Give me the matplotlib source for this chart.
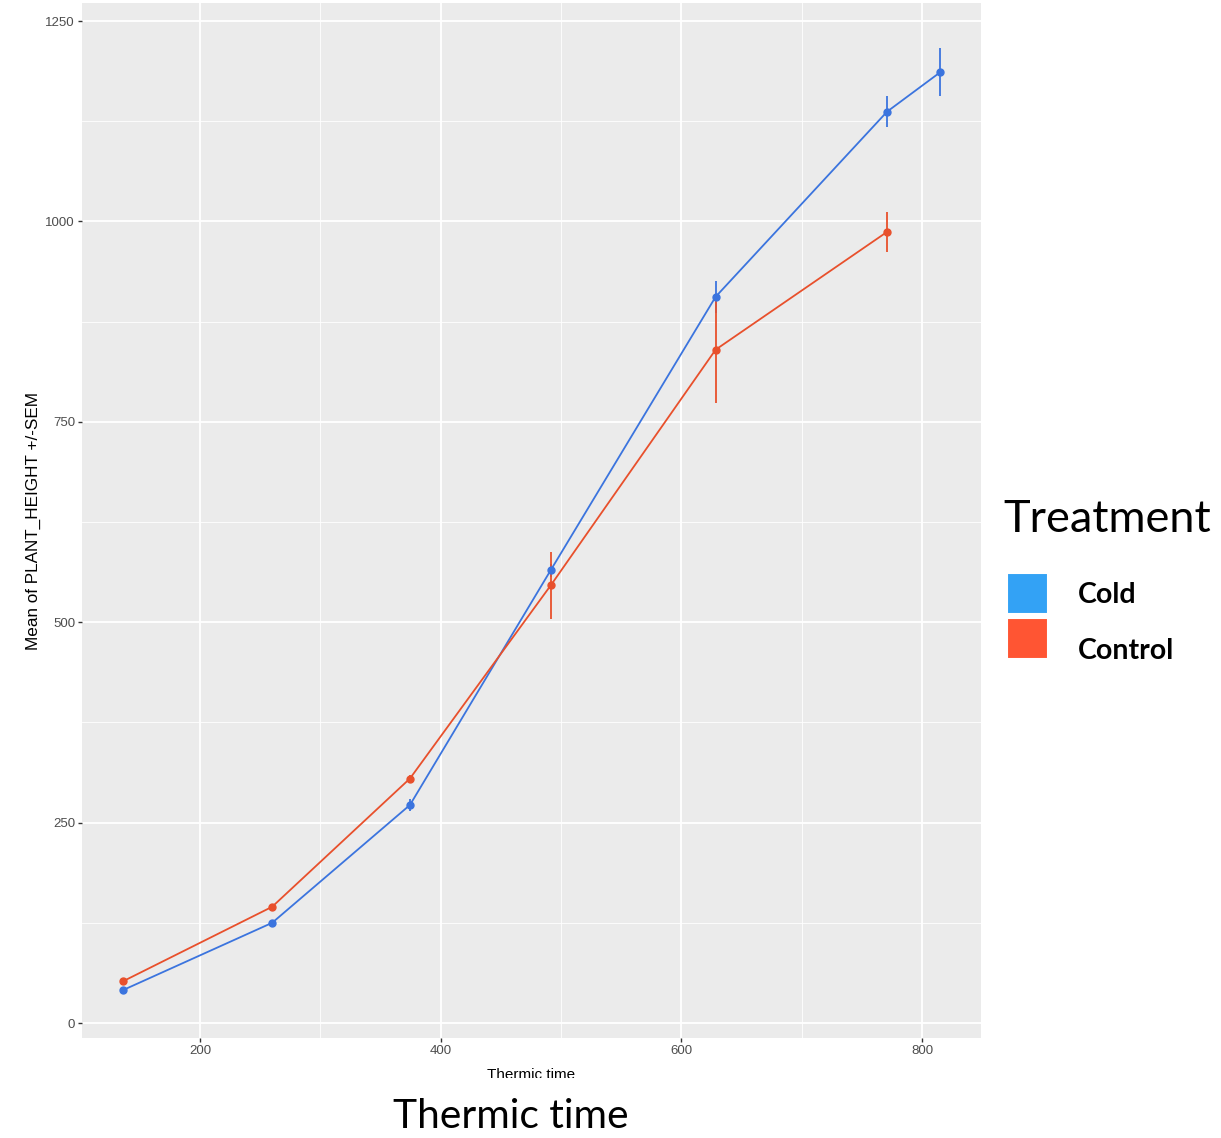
import matplotlib
matplotlib.use('Agg')
import matplotlib.pyplot as plt
import numpy as np
from matplotlib.patches import Rectangle

# Data
cold_time = [136, 260, 374.5, 491.5, 628.5, 771, 815]
cold_height = [41, 125, 272, 565, 906, 1137, 1186]
cold_sem = [3, 4, 8, 8, 20, 19, 30]

control_time = [136, 260, 374.5, 491.5, 628.5, 771]
control_height = [52, 145, 305, 546, 840, 987]
control_sem = [3, 4, 5, 42, 66, 25]

x_ticks = [200, 400, 600, 800]
y_ticks = [0, 250, 500, 750, 1000, 1250]
legend_labels = ['Cold', 'Control']

cold_col = '#3B74DE'
control_col = '#E8502C'

plt.rcParams['font.family'] = ['Liberation Sans', 'DejaVu Sans']

fig = plt.figure(figsize=(12.21, 11.38), dpi=100)
ax = fig.add_axes([82/1221, 1-1038/1138, (981-82)/1221, (1038-3)/1138])
ax.set_facecolor('#EBEBEB')

# Grid lines, ggplot style
ax.set_xlim(102, 849)
ax.set_ylim(-18.7, 1272.5)
ax.set_xticks(x_ticks)
ax.set_yticks(y_ticks)
ax.set_xticks([300, 500, 700], minor=True)
ax.set_yticks([125, 375, 625, 875, 1125], minor=True)
ax.grid(which='major', color='white', linewidth=1.3)
ax.grid(which='minor', color='white', linewidth=0.6)
ax.set_axisbelow(True)
for s in ax.spines.values():
    s.set_visible(False)
ax.tick_params(which='major', length=3, width=1, color='#333333',
               labelsize=9.5, labelcolor='#4D4D4D', pad=2)
ax.tick_params(which='minor', length=0)

# Series: cold first, control on top
ax.errorbar(cold_time, cold_height, yerr=cold_sem, color=cold_col, lw=1.3,
            marker='o', ms=5, capsize=0, elinewidth=1.3)
ax.errorbar(control_time, control_height, yerr=control_sem, color=control_col, lw=1.3,
            marker='o', ms=5, capsize=0, elinewidth=1.3)

ax.set_ylabel('Mean of PLANT_HEIGHT +/-SEM', fontsize=12.3, labelpad=3)
ax.set_xlabel('Thermic time', fontsize=11, labelpad=8.3)

# white overlay with the big axis title below it
fig.patches.append(Rectangle((0, 0), 1, 1-1078/1138, transform=fig.transFigure,
                             facecolor='white', edgecolor='none', zorder=5))
fig.text(511/1221, 1-1116/1138, 'Thermic time', fontsize=29.3, family='Lato',
         ha='center', va='center', zorder=6)

# Legend, drawn by hand
fig.text(1003/1221, 1-520/1138, 'Treatment', fontsize=32.5, family='Lato',
         ha='left', va='center')
leg_cols = ['#33A2F5', '#FF5533']
text_y = [595, 651]
for i, (lab, c) in enumerate(zip(legend_labels, leg_cols)):
    y0 = 573 + i * 45
    fig.patches.append(Rectangle((1007/1221, 1-(y0+41)/1138), 41/1221, 41/1138,
                                 transform=fig.transFigure, facecolor=c,
                                 edgecolor='white', lw=1.5))
    fig.text(1078/1221, 1-text_y[i]/1138, lab, fontsize=20.5, family='Lato',
             weight='bold', ha='left', va='center')

fig.savefig('out.png', dpi=100)
